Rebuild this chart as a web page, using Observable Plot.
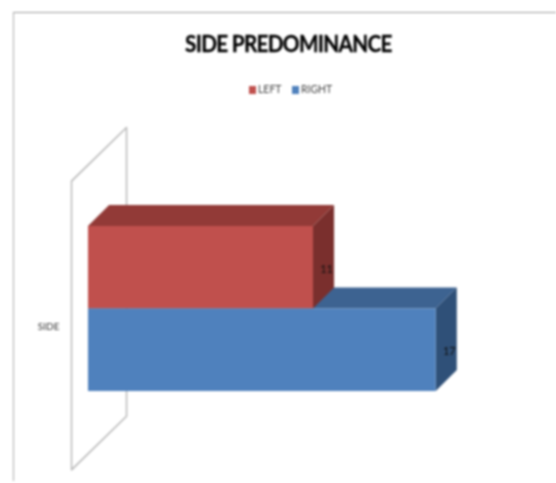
<!DOCTYPE html>
<html>
<head>
<meta charset="utf-8">
<script src="https://cdn.jsdelivr.net/npm/d3@7"></script>
<script src="https://cdn.jsdelivr.net/npm/@observablehq/plot@0.6"></script>
<style>
  html, body { margin: 0; padding: 0; background: #fff; overflow: hidden; }
  #page { position: relative; width: 556px; height: 483px; background: #fff; filter: blur(0.8px); }
  #edge { position: absolute; left: 13px; top: 12px; right: 0; bottom: 2px; border-top: 1.5px solid #9c9c9c; border-left: 1.5px solid #adadad; }
  #title { position: absolute; left: 185px; top: 28px; white-space: nowrap; transform-origin: 0 50%; transform: scaleX(0.9);
    font: 700 23px/30px Lato, sans-serif; letter-spacing: -0.75px; color: #000; -webkit-text-stroke: 0.3px #000; }
  #legend { position: absolute; left: 249px; top: 81px; height: 16px; white-space: nowrap;
    font: 400 11px/16px Lato, sans-serif; color: #444; }
  #legend span { position: absolute; top: 0; transform-origin: 0 50%; transform: scaleX(0.95); }
  #legend i { position: absolute; top: 5px; width: 7px; height: 8px; }
  #chart { position: absolute; left: 0; top: 105px; }
  #chart svg { display: block; }
</style>
</head>
<body>
<div id="page">
  <div id="edge"></div>
  <div id="title"></div>
  <div id="legend"></div>
  <div id="chart"></div>
</div>
<script>
const titleText = "SIDE PREDOMINANCE";
const axisLabel = "SIDE";
const categories = ["LEFT", "RIGHT"];
const values = [11, 17];
const stackLevel = [1, 0];          // band position of each bar, bottom band = 0
const frontColors = ["#C0504D", "#4F81BD"];
const topColors = ["#923A37", "#3D6391"];
const sideColors = ["#7A2F2D", "#2F5078"];

// Oblique depth of the 3D box, in data units of each axis
const depthX = 1.03;
const depthY = 0.255;

// Back "wall" of the category axis, in data units
const wallX = [-0.83, 1.86, 1.86, -0.83, -0.83];
const wallY = [2.55, 3.2, -0.3, -0.95, 2.55];

const rows = categories.map((name, i) => ({
  name, value: values[i], level: stackLevel[i],
  front: frontColors[i], top: topColors[i], side: sideColors[i]
}));

function topFace(r) {
  const y = r.level + 1;
  return Plot.areaX(
    [{y, x1: 0, x2: r.value}, {y: y + depthY, x1: depthX, x2: r.value + depthX}],
    {y: "y", x1: "x1", x2: "x2", fill: r.top, curve: "linear"}
  );
}
function sideFace(r) {
  const y = r.level;
  return Plot.areaY(
    [{x: r.value, y1: y, y2: y + 1}, {x: r.value + depthX, y1: y + depthY, y2: y + 1 + depthY}],
    {x: "x", y1: "y1", y2: "y2", fill: r.side, curve: "linear"}
  );
}
function frontFace(r) {
  return Plot.rect([r], {x1: 0, x2: "value", y1: "level", y2: d => d.level + 1, fill: r.front, inset: 0});
}

const [left, right] = rows;
const unitX = 225 / 11, unitY = 82.5;

const plot = Plot.plot({
  width: 556,
  height: 378,
  marginTop: 0, marginRight: 0, marginBottom: 0, marginLeft: 0,
  x: {axis: null, type: "linear", domain: [-88 / unitX, (556 - 88) / unitX], range: [0, 556]},
  y: {axis: null, type: "linear", domain: [-92 / unitY, 286 / unitY], range: [378, 0]},
  style: {background: "transparent", overflow: "visible"},
  marks: [
    Plot.line(wallX.map((x, i) => ({x, y: wallY[i]})), {x: "x", y: "y", stroke: "#b5b5b5", strokeWidth: 1.4, curve: "linear"}),
    topFace(right),
    topFace(left), sideFace(left), frontFace(left),
    sideFace(right), frontFace(right),
    Plot.text(rows, {
      x: d => d.value + 0.64,
      y: d => d.level + 0.485,
      text: d => String(d.value),
      fill: "#111", fontSize: 11, fontFamily: "Lato, sans-serif"
    }),
    Plot.text([axisLabel], {
      x: [-1.95], y: [0.78], text: d => d,
      fill: "#333", fontSize: 10, fontFamily: "Lato, sans-serif"
    })
  ]
});
document.getElementById("chart").appendChild(plot);

document.getElementById("title").textContent = titleText;
const legend = document.getElementById("legend");
const legendPlace = [{swatch: 0, label: 9}, {swatch: 43, label: 52}];
rows.forEach((r, i) => {
  const sw = document.createElement("i");
  sw.style.left = legendPlace[i].swatch + "px";
  sw.style.background = r.front;
  const lb = document.createElement("span");
  lb.style.left = legendPlace[i].label + "px";
  lb.textContent = r.name;
  legend.append(sw, lb);
});
</script>
</body>
</html>
